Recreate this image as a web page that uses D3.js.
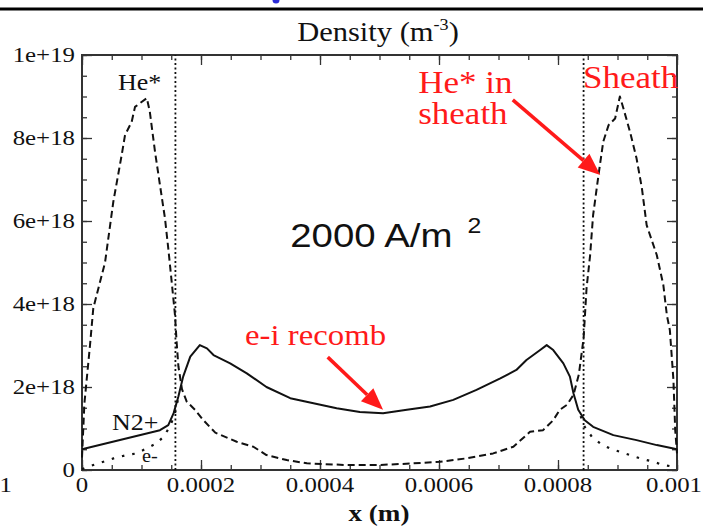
<!DOCTYPE html>
<html>
<head>
<meta charset="utf-8">
<script src="https://cdn.jsdelivr.net/npm/d3@7"></script>
<style>
  html, body { margin: 0; padding: 0; background: #fff; }
  svg { display: block; }
</style>
</head>
<body>
<svg id="chart" width="703" height="526"></svg>
<script>
// Densities are in units of 1e18 m^-3, positions in metres.
const xTicks = [0, 0.0002, 0.0004, 0.0006, 0.0008, 0.001];
const xTickLabels = ["0", "0.0002", "0.0004", "0.0006", "0.0008", "0.001"];
const yTicks = [0, 2, 4, 6, 8, 10];
const yTickLabels = ["0", "2e+18", "4e+18", "6e+18", "8e+18", "1e+19"];

// He* metastables (dashed)
const heX = [0, 0.000004, 0.0000134, 0.000019, 0.0000387, 0.0000527, 0.0000667, 0.0000723, 0.0000835, 0.0000891,
  0.000109, 0.000114, 0.0001227, 0.000131, 0.0001395, 0.000145, 0.0001507, 0.0001563, 0.000159, 0.000162,
  0.000168, 0.000176, 0.00019, 0.000204, 0.000224, 0.00026, 0.000288, 0.00031, 0.000344, 0.000378,
  0.000445, 0.0005, 0.000557, 0.000602, 0.000646, 0.000691, 0.000725, 0.000753, 0.000775, 0.000792,
  0.000803, 0.000815, 0.000826, 0.000835, 0.000843, 0.000848, 0.000854, 0.000859, 0.000868, 0.000876,
  0.000885, 0.000896, 0.000904, 0.00091, 0.000921, 0.000932, 0.000941, 0.000949, 0.000966, 0.000977,
  0.000983, 0.000988, 0.000994, 0.000997, 0.001];
const heY = [0.3, 1.6, 3.0, 3.9, 5.0, 6.47, 7.59, 8.07, 8.39, 8.75,
  8.96, 8.63, 7.67, 6.87, 6.06, 5.34, 4.54, 3.73, 3.09, 2.5,
  1.95, 1.65, 1.45, 1.2, 0.9, 0.68, 0.56, 0.36, 0.24, 0.16,
  0.12, 0.12, 0.16, 0.2, 0.28, 0.4, 0.56, 0.92, 0.96, 1.2,
  1.45, 1.57, 1.81, 2.3, 3.17, 4.38, 5.18, 6.14, 7.1, 7.91,
  8.31, 8.47, 9.0, 8.71, 8.15, 7.51, 6.79, 5.9, 5.18, 4.46,
  3.73, 3.37, 2.17, 0.96, 0.4];

// N2+ ions (solid)
const n2X = [0, 0.000131, 0.000145, 0.000154, 0.000162, 0.00017, 0.000182, 0.000198, 0.00021, 0.000221,
  0.000249, 0.000277, 0.00031, 0.00035, 0.000389, 0.000428, 0.000467, 0.000506, 0.000546, 0.000585,
  0.000624, 0.000663, 0.000703, 0.00073, 0.000747, 0.00077, 0.000781, 0.000792, 0.000809, 0.00082,
  0.000826, 0.000834, 0.000845, 0.000859, 0.000893, 0.000932, 0.000966, 0.001];
const n2Y = [0.5, 0.96, 1.08, 1.37, 1.77, 2.25, 2.73, 3.01, 2.93, 2.77,
  2.57, 2.33, 2.0, 1.73, 1.61, 1.49, 1.4, 1.37, 1.45, 1.53,
  1.69, 1.93, 2.21, 2.41, 2.65, 2.89, 3.01, 2.89, 2.57, 2.25,
  1.85, 1.45, 1.2, 1.04, 0.84, 0.72, 0.6, 0.5];

// electrons (dotted) inside each sheath; in the bulk they sit on the N2+ curve
const eLeftX = [0, 0.000019, 0.000036, 0.000053, 0.000075, 0.000092, 0.000125, 0.000137, 0.000148, 0.000156, 0.000162];
const eLeftY = [0.02, 0.12, 0.2, 0.28, 0.36, 0.4, 0.64, 0.8, 1.05, 1.35, 1.75];
const eRightX = [0.000838, 0.000845, 0.000857, 0.000871, 0.000887, 0.000904, 0.000921, 0.000938, 0.00096, 0.000977, 0.000994, 0.001];
const eRightY = [1.3, 1.04, 0.8, 0.64, 0.52, 0.44, 0.36, 0.28, 0.2, 0.12, 0.08, 0.06];

// sheath edges
const sheathX = [0.000157, 0.000843];

// annotation texts, placed in data coordinates
const blackLabels = [
  { text: "He*", x: 0.0000605, y: 9.16, size: 23 },
  { text: "N2+", x: 0.0000504, y: 0.96, size: 23 },
  { text: "e-",  x: 0.0001008, y: 0.19, size: 18 }
];
const redLabels = [
  { text: "He* in", x: 0.000565, y: 9.08, size: 31 },
  { text: "sheath", x: 0.000565, y: 8.34, size: 31 },
  { text: "Sheath", x: 0.000842, y: 9.2, size: 31 },
  { text: "e-i recomb", x: 0.000274, y: 3.01, size: 29 }
];
const arrows = [
  { x0: 0.000724, y0: 8.92, x1: 0.000871, y1: 7.11 },
  { x0: 0.000413, y0: 2.72, x1: 0.000506, y1: 1.45 }
];

const SX = 1.13;            // horizontal stretch of all lettering
const SERIF = "'Liberation Serif', 'Times New Roman', serif";
const SANS = "'Liberation Sans', Arial, sans-serif";

const svg = d3.select("#chart");
const margin = { left: 82, right: 26, top: 55, bottom: 56 };
const W = 703, H = 526;
const x = d3.scaleLinear().domain([0, 0.001]).range([margin.left, W - margin.right]);
const y = d3.scaleLinear().domain([0, 10]).range([H - margin.bottom, margin.top]);

// slide rule and bullet above the plot
svg.append("line").attr("x1", 0).attr("x2", W).attr("y1", 9).attr("y2", 9)
  .attr("stroke", "#000").attr("stroke-width", 3);
svg.append("circle").attr("cx", 276).attr("cy", 0).attr("r", 3.5).attr("fill", "#2b2bd6");

function text(g, px, py, str, size, opts = {}) {
  const t = g.append("text")
    .attr("transform", `translate(${px},${py}) scale(${SX},1)`)
    .attr("font-family", opts.family || SERIF)
    .attr("font-size", size)
    .attr("fill", opts.fill || "#111")
    .attr("text-anchor", opts.anchor || "start");
  if (opts.weight) t.attr("font-weight", opts.weight);
  t.text(str);
  return t;
}

// axes: major ticks labelled, minor ticks every 0.00005 m / 5e17 m^-3, all pointing inward
const xMinor = d3.range(0, 0.00100001, 0.00005);
const yMinor = d3.range(0, 10.0001, 0.5);
const axisColor = "#333";
const plot = svg.append("g");

function drawTicks(axis, transform) {
  const g = plot.append("g").attr("transform", transform).call(axis);
  g.select(".domain").remove();
  g.selectAll("line").attr("stroke", axisColor).attr("stroke-width", 1.3);
  g.selectAll("text").remove();
  return g;
}
const pBottom = H - margin.bottom, pTop = margin.top, pLeft = margin.left, pRight = W - margin.right;
drawTicks(d3.axisBottom(x).tickValues(xMinor).tickSize(-5), `translate(0,${pBottom})`);
drawTicks(d3.axisBottom(x).tickValues(xTicks).tickSize(-10), `translate(0,${pBottom})`);
drawTicks(d3.axisTop(x).tickValues(xMinor).tickSize(-5), `translate(0,${pTop})`);
drawTicks(d3.axisTop(x).tickValues(xTicks).tickSize(-10), `translate(0,${pTop})`);
drawTicks(d3.axisLeft(y).tickValues(yMinor).tickSize(-5), `translate(${pLeft},0)`);
drawTicks(d3.axisLeft(y).tickValues(yTicks).tickSize(-10), `translate(${pLeft},0)`);
drawTicks(d3.axisRight(y).tickValues(yMinor).tickSize(-5), `translate(${pRight},0)`);
drawTicks(d3.axisRight(y).tickValues(yTicks).tickSize(-10), `translate(${pRight},0)`);

// frame
plot.append("rect").attr("x", pLeft).attr("y", pTop)
  .attr("width", pRight - pLeft).attr("height", pBottom - pTop)
  .attr("fill", "none").attr("stroke", axisColor).attr("stroke-width", 2);

// tick labels (the last one is kept inside the page edge)
const labels = svg.append("g");
xTicks.forEach((v, i) => {
  const t = text(labels, x(v), pBottom + 22, xTickLabels[i], 22, { anchor: "middle" });
  const bb = t.node().getBoundingClientRect();
  if (bb.right > W - 1) {
    t.attr("transform", `translate(${x(v) - (bb.right - (W - 1))},${pBottom + 22}) scale(${SX},1)`);
  }
});
yTicks.forEach((v, i) => text(labels, pLeft - 7, y(v) + 7, yTickLabels[i], 22, { anchor: "end" }));
// tail of the neighbouring panel's axis label
text(labels, 12, pBottom + 22, "0.001", 22, { anchor: "end" });

// titles
const title = text(labels, 378, 41, "", 27, { anchor: "middle" });
title.append("tspan").text("Density (m");
title.append("tspan").attr("font-size", 16).attr("dy", -11).text("-3");
title.append("tspan").attr("dy", 11).text(")");
text(labels, 379, 521, "x (m)", 24, { anchor: "middle", weight: "bold" });

// curves
const lineGen = d3.line().x(d => x(d[0])).y(d => y(d[1]));
const curves = svg.append("g").attr("fill", "none").attr("stroke", "#111").attr("stroke-linejoin", "round");

sheathX.forEach(v => {
  curves.append("line").attr("x1", x(v)).attr("x2", x(v)).attr("y1", y(0)).attr("y2", y(10))
    .attr("stroke-width", 1.8).attr("stroke-dasharray", "2,2.5");
});
curves.append("path").datum(d3.zip(n2X, n2Y)).attr("d", lineGen).attr("stroke-width", 2);
curves.append("path").datum(d3.zip(heX, heY)).attr("d", lineGen)
  .attr("stroke-width", 2).attr("stroke-dasharray", "7,4");
[d3.zip(eLeftX, eLeftY), d3.zip(eRightX, eRightY)].forEach(seg => {
  curves.append("path").datum(seg).attr("d", lineGen)
    .attr("stroke-width", 2.2).attr("stroke-dasharray", "2.5,8");
});

// annotations
const notes = svg.append("g");
blackLabels.forEach(d => text(notes, x(d.x), y(d.y), d.text, d.size));
redLabels.forEach(d => text(notes, x(d.x), y(d.y), d.text, d.size, { fill: "#ff1a1a" }));

text(notes, x(0.00035), y(5.37), "2000 A/m", 34, { family: SANS, fill: "#111" });
text(notes, x(0.000648), y(5.7), "2", 22, { family: SANS, fill: "#111" });

const red = "#ff1a1a";
arrows.forEach(a => {
  const x0 = x(a.x0), y0 = y(a.y0), x1 = x(a.x1), y1 = y(a.y1);
  const ang = Math.atan2(y1 - y0, x1 - x0);
  const headLen = 22, headW = 9;
  const bx = x1 - headLen * Math.cos(ang), by = y1 - headLen * Math.sin(ang);
  notes.append("line").attr("x1", x0).attr("y1", y0).attr("x2", bx).attr("y2", by)
    .attr("stroke", red).attr("stroke-width", 3.5);
  const nx = -Math.sin(ang), ny = Math.cos(ang);
  notes.append("path")
    .attr("d", `M${x1},${y1}L${bx + nx * headW},${by + ny * headW}L${bx - nx * headW},${by - ny * headW}Z`)
    .attr("fill", red);
});
</script>
</body>
</html>
